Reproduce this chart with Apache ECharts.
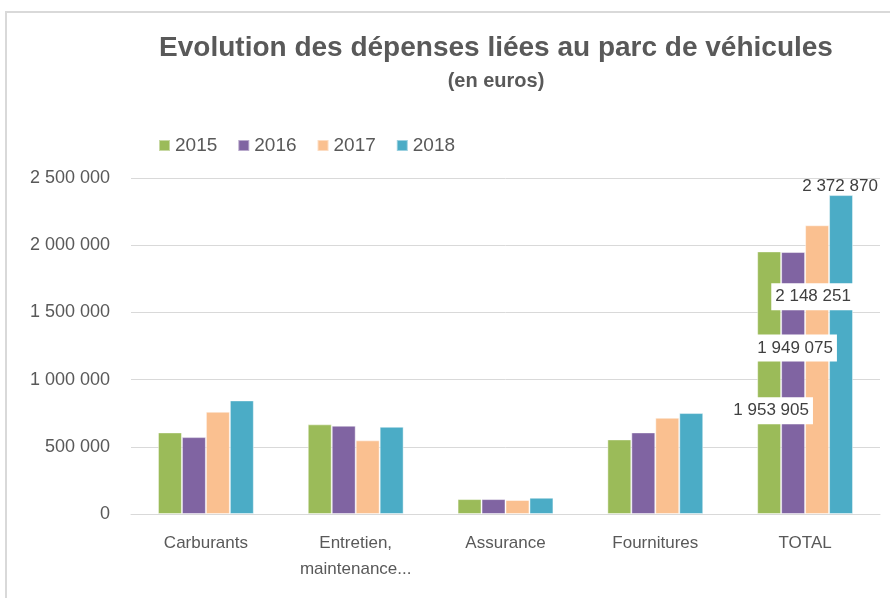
<!DOCTYPE html>
<html>
<head>
<meta charset="utf-8">
<script src="https://cdn.jsdelivr.net/npm/echarts@6/dist/echarts.min.js"></script>
<style>
  html, body { margin: 0; padding: 0; background: #fff; }
  #chart { width: 890px; height: 598px; }
</style>
</head>
<body>
<div id="chart"></div>
<script>
// categories et valeurs
const categories = ['Carburants', 'Entretien,\nmaintenance...', 'Assurance', 'Fournitures', 'TOTAL'];
const years = ['2015', '2016', '2017', '2018'];
const v2015 = [607000, 667000, 111000, 555000, 1953905];
const v2016 = [572000, 657000, 111000, 607000, 1949075];
const v2017 = [761000, 548000, 104000, 716000, 2148251];
const v2018 = [845000, 649000, 121000, 751000, 2372870];
const yTicks = [0, 500000, 1000000, 1500000, 2000000, 2500000];

const colors = ['#9BBB59', '#8064A2', '#FAC090', '#4BACC6'];
const FONT = 'Liberation Sans';
const GREY = '#595959';

const fmt = (v) => String(v).replace(/\B(?=(\d{3})+(?!\d))/g, ' ');

// étiquettes de la colonne TOTAL (placement manuel comme dans Excel)
const totalLabel = [
  { position: 'inside', offset: [2, 28], backgroundColor: '#fff' },
  { position: 'inside', offset: [2, -35], backgroundColor: '#fff' },
  { position: 'inside', offset: [-4, -73], backgroundColor: '#fff' },
  { position: 'top', offset: [-1, 10] },
];

const allValues = [v2015, v2016, v2017, v2018];

const series = years.map((y, i) => ({
  name: y,
  type: 'bar',
  barGap: 0,
  barCategoryGap: '36%',
  itemStyle: { color: colors[i], borderColor: 'rgba(255,255,255,0.45)', borderWidth: 1 },
  data: allValues[i].map((val, j) => {
    if (j !== categories.length - 1) return val;
    return {
      value: val,
      label: Object.assign({
        show: true,
        formatter: (p) => fmt(p.value),
        fontFamily: FONT,
        fontSize: 17,
        color: '#404040',
        padding: [5, 4, 5, 4],
      }, totalLabel[i]),
    };
  }),
}));

const myChart = echarts.init(document.getElementById('chart'));

myChart.setOption({
  animation: false,
  backgroundColor: '#fff',
  graphic: [{
    type: 'rect',
    shape: { x: 6, y: 12, width: 900, height: 600 },
    style: { fill: 'none', stroke: '#d9d9d9', lineWidth: 2 },
  }],
  title: [{
    text: 'Evolution des dépenses liées au parc de véhicules',
    left: 491,
    top: 29,
    textAlign: 'center',
    textStyle: { fontFamily: FONT, fontSize: 28, fontWeight: 'bold', color: GREY },
  }, {
    text: '(en euros)',
    left: 491,
    top: 66,
    textAlign: 'center',
    textStyle: { fontFamily: FONT, fontSize: 20, fontWeight: 'bold', color: GREY },
  }],
  legend: {
    data: years,
    left: 153,
    top: 131,
    icon: 'rect',
    itemWidth: 11,
    itemHeight: 11,
    itemGap: 20,
    textStyle: { fontFamily: FONT, fontSize: 19, color: GREY },
  },
  grid: { left: 131, right: 10, top: 178, bottom: 84 },
  xAxis: {
    type: 'category',
    data: categories,
    axisTick: { show: false },
    axisLine: { lineStyle: { color: '#d9d9d9', width: 1 } },
    axisLabel: {
      fontFamily: FONT, fontSize: 17, color: GREY, margin: 16, lineHeight: 26, interval: 0,
    },
  },
  yAxis: {
    type: 'value',
    min: yTicks[0],
    max: yTicks[yTicks.length - 1],
    interval: yTicks[1] - yTicks[0],
    axisLine: { show: false },
    axisTick: { show: false },
    splitLine: { lineStyle: { color: '#d9d9d9', width: 1 } },
    axisLabel: {
      fontFamily: FONT, fontSize: 18, color: GREY, margin: 21,
      formatter: (v) => fmt(v),
    },
  },
  series: series,
});
</script>
</body>
</html>
